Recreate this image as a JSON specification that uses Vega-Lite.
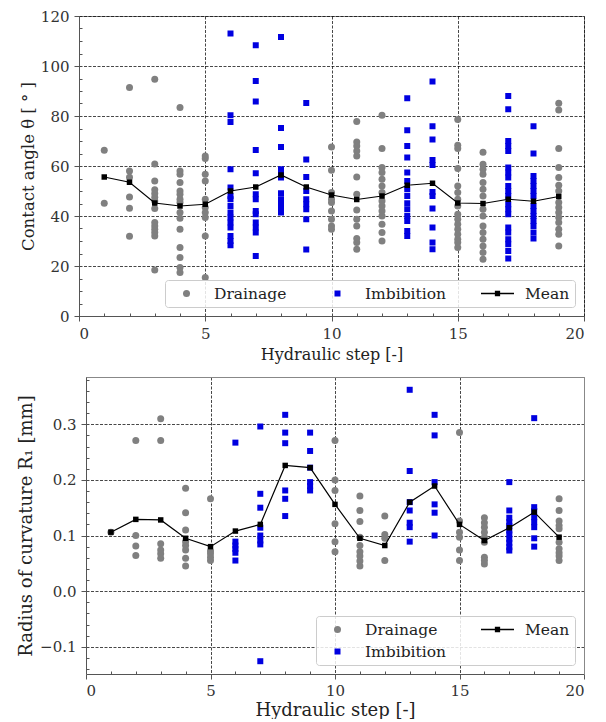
{
  "$schema": "https://vega.github.io/schema/vega-lite/v6.json",
  "padding": {"left": 17, "top": 8, "right": 5, "bottom": 0},
  "background": "white",
  "spacing": 14,
  "datasets": {
    "angle": [
      {"s":1,"v":66.3,"g":"Drainage"},{"s":1,"v":45.1,"g":"Drainage"},
      {"s":2,"v":91.4,"g":"Drainage"},{"s":2,"v":58.0,"g":"Drainage"},{"s":2,"v":55.5,"g":"Drainage"},{"s":2,"v":47.6,"g":"Drainage"},{"s":2,"v":43.1,"g":"Drainage"},{"s":2,"v":31.9,"g":"Drainage"},
      {"s":3,"v":94.7,"g":"Drainage"},{"s":3,"v":60.8,"g":"Drainage"},{"s":3,"v":54.0,"g":"Drainage"},{"s":3,"v":50.5,"g":"Drainage"},{"s":3,"v":49.0,"g":"Drainage"},{"s":3,"v":47.5,"g":"Drainage"},{"s":3,"v":46.0,"g":"Drainage"},{"s":3,"v":43.0,"g":"Drainage"},{"s":3,"v":37.4,"g":"Drainage"},{"s":3,"v":36.0,"g":"Drainage"},{"s":3,"v":34.7,"g":"Drainage"},{"s":3,"v":33.4,"g":"Drainage"},{"s":3,"v":32.0,"g":"Drainage"},{"s":3,"v":18.4,"g":"Drainage"},
      {"s":4,"v":83.4,"g":"Drainage"},{"s":4,"v":58.0,"g":"Drainage"},{"s":4,"v":56.7,"g":"Drainage"},{"s":4,"v":53.4,"g":"Drainage"},{"s":4,"v":50.0,"g":"Drainage"},{"s":4,"v":48.7,"g":"Drainage"},{"s":4,"v":46.7,"g":"Drainage"},{"s":4,"v":45.4,"g":"Drainage"},{"s":4,"v":41.4,"g":"Drainage"},{"s":4,"v":39.1,"g":"Drainage"},{"s":4,"v":34.7,"g":"Drainage"},{"s":4,"v":27.4,"g":"Drainage"},{"s":4,"v":23.4,"g":"Drainage"},{"s":4,"v":19.4,"g":"Drainage"},{"s":4,"v":17.4,"g":"Drainage"},
      {"s":5,"v":64.0,"g":"Drainage"},{"s":5,"v":63.0,"g":"Drainage"},{"s":5,"v":56.7,"g":"Drainage"},{"s":5,"v":54.0,"g":"Drainage"},{"s":5,"v":46.7,"g":"Drainage"},{"s":5,"v":43.4,"g":"Drainage"},{"s":5,"v":41.4,"g":"Drainage"},{"s":5,"v":39.4,"g":"Drainage"},{"s":5,"v":32.0,"g":"Drainage"},{"s":5,"v":15.4,"g":"Drainage"},
      {"s":6,"v":113.0,"g":"Imbibition"},{"s":6,"v":80.3,"g":"Imbibition"},{"s":6,"v":77.6,"g":"Imbibition"},{"s":6,"v":58.7,"g":"Imbibition"},{"s":6,"v":51.4,"g":"Imbibition"},{"s":6,"v":48.0,"g":"Imbibition"},{"s":6,"v":46.7,"g":"Imbibition"},{"s":6,"v":44.0,"g":"Imbibition"},{"s":6,"v":41.4,"g":"Imbibition"},{"s":6,"v":39.4,"g":"Imbibition"},{"s":6,"v":37.4,"g":"Imbibition"},{"s":6,"v":35.4,"g":"Imbibition"},{"s":6,"v":32.0,"g":"Imbibition"},{"s":6,"v":30.0,"g":"Imbibition"},{"s":6,"v":28.3,"g":"Imbibition"},
      {"s":7,"v":108.3,"g":"Imbibition"},{"s":7,"v":94.0,"g":"Imbibition"},{"s":7,"v":85.8,"g":"Imbibition"},{"s":7,"v":66.4,"g":"Imbibition"},{"s":7,"v":57.1,"g":"Imbibition"},{"s":7,"v":48.7,"g":"Imbibition"},{"s":7,"v":46.7,"g":"Imbibition"},{"s":7,"v":42.0,"g":"Imbibition"},{"s":7,"v":40.7,"g":"Imbibition"},{"s":7,"v":37.4,"g":"Imbibition"},{"s":7,"v":35.4,"g":"Imbibition"},{"s":7,"v":33.4,"g":"Imbibition"},{"s":7,"v":24.0,"g":"Imbibition"},
      {"s":8,"v":111.6,"g":"Imbibition"},{"s":8,"v":75.2,"g":"Imbibition"},{"s":8,"v":67.6,"g":"Imbibition"},{"s":8,"v":58.7,"g":"Imbibition"},{"s":8,"v":57.4,"g":"Imbibition"},{"s":8,"v":55.4,"g":"Imbibition"},{"s":8,"v":49.1,"g":"Imbibition"},{"s":8,"v":46.7,"g":"Imbibition"},{"s":8,"v":45.1,"g":"Imbibition"},{"s":8,"v":43.4,"g":"Imbibition"},{"s":8,"v":41.4,"g":"Imbibition"},
      {"s":9,"v":85.2,"g":"Imbibition"},{"s":9,"v":62.6,"g":"Imbibition"},{"s":9,"v":55.6,"g":"Imbibition"},{"s":9,"v":50.0,"g":"Imbibition"},{"s":9,"v":46.7,"g":"Imbibition"},{"s":9,"v":44.7,"g":"Imbibition"},{"s":9,"v":42.7,"g":"Imbibition"},{"s":9,"v":38.7,"g":"Imbibition"},{"s":9,"v":26.6,"g":"Imbibition"},
      {"s":10,"v":67.6,"g":"Drainage"},{"s":10,"v":58.3,"g":"Drainage"},{"s":10,"v":49.4,"g":"Drainage"},{"s":10,"v":46.7,"g":"Drainage"},{"s":10,"v":45.4,"g":"Drainage"},{"s":10,"v":42.0,"g":"Drainage"},{"s":10,"v":38.7,"g":"Drainage"},{"s":10,"v":36.0,"g":"Drainage"},{"s":10,"v":34.7,"g":"Drainage"},
      {"s":11,"v":77.8,"g":"Drainage"},{"s":11,"v":69.6,"g":"Drainage"},{"s":11,"v":68.0,"g":"Drainage"},{"s":11,"v":66.0,"g":"Drainage"},{"s":11,"v":64.0,"g":"Drainage"},{"s":11,"v":55.6,"g":"Drainage"},{"s":11,"v":48.7,"g":"Drainage"},{"s":11,"v":42.4,"g":"Drainage"},{"s":11,"v":38.7,"g":"Drainage"},{"s":11,"v":36.0,"g":"Drainage"},{"s":11,"v":31.0,"g":"Drainage"},{"s":11,"v":29.4,"g":"Drainage"},{"s":11,"v":26.7,"g":"Drainage"},
      {"s":12,"v":80.3,"g":"Drainage"},{"s":12,"v":67.0,"g":"Drainage"},{"s":12,"v":59.4,"g":"Drainage"},{"s":12,"v":57.4,"g":"Drainage"},{"s":12,"v":54.7,"g":"Drainage"},{"s":12,"v":52.0,"g":"Drainage"},{"s":12,"v":49.4,"g":"Drainage"},{"s":12,"v":46.0,"g":"Drainage"},{"s":12,"v":44.0,"g":"Drainage"},{"s":12,"v":42.0,"g":"Drainage"},{"s":12,"v":40.0,"g":"Drainage"},{"s":12,"v":36.7,"g":"Drainage"},{"s":12,"v":33.4,"g":"Drainage"},{"s":12,"v":30.0,"g":"Drainage"},
      {"s":13,"v":87.1,"g":"Imbibition"},{"s":13,"v":74.3,"g":"Imbibition"},{"s":13,"v":68.0,"g":"Imbibition"},{"s":13,"v":63.4,"g":"Imbibition"},{"s":13,"v":57.4,"g":"Imbibition"},{"s":13,"v":54.0,"g":"Imbibition"},{"s":13,"v":50.7,"g":"Imbibition"},{"s":13,"v":48.0,"g":"Imbibition"},{"s":13,"v":45.1,"g":"Imbibition"},{"s":13,"v":42.7,"g":"Imbibition"},{"s":13,"v":40.0,"g":"Imbibition"},{"s":13,"v":38.0,"g":"Imbibition"},{"s":13,"v":34.0,"g":"Imbibition"},{"s":13,"v":32.0,"g":"Imbibition"},
      {"s":14,"v":93.8,"g":"Imbibition"},{"s":14,"v":75.9,"g":"Imbibition"},{"s":14,"v":70.6,"g":"Imbibition"},{"s":14,"v":62.4,"g":"Imbibition"},{"s":14,"v":60.4,"g":"Imbibition"},{"s":14,"v":49.6,"g":"Imbibition"},{"s":14,"v":48.0,"g":"Imbibition"},{"s":14,"v":43.0,"g":"Imbibition"},{"s":14,"v":35.4,"g":"Imbibition"},{"s":14,"v":29.4,"g":"Imbibition"},{"s":14,"v":26.7,"g":"Imbibition"},
      {"s":15,"v":78.6,"g":"Drainage"},{"s":15,"v":68.3,"g":"Drainage"},{"s":15,"v":67.0,"g":"Drainage"},{"s":15,"v":59.0,"g":"Drainage"},{"s":15,"v":52.0,"g":"Drainage"},{"s":15,"v":49.4,"g":"Drainage"},{"s":15,"v":46.7,"g":"Drainage"},{"s":15,"v":44.0,"g":"Drainage"},{"s":15,"v":40.7,"g":"Drainage"},{"s":15,"v":38.7,"g":"Drainage"},{"s":15,"v":36.7,"g":"Drainage"},{"s":15,"v":34.7,"g":"Drainage"},{"s":15,"v":32.7,"g":"Drainage"},{"s":15,"v":30.7,"g":"Drainage"},{"s":15,"v":29.4,"g":"Drainage"},{"s":15,"v":27.4,"g":"Drainage"},
      {"s":16,"v":65.5,"g":"Drainage"},{"s":16,"v":60.7,"g":"Drainage"},{"s":16,"v":58.7,"g":"Drainage"},{"s":16,"v":56.7,"g":"Drainage"},{"s":16,"v":53.4,"g":"Drainage"},{"s":16,"v":50.7,"g":"Drainage"},{"s":16,"v":48.0,"g":"Drainage"},{"s":16,"v":42.7,"g":"Drainage"},{"s":16,"v":40.0,"g":"Drainage"},{"s":16,"v":36.0,"g":"Drainage"},{"s":16,"v":33.4,"g":"Drainage"},{"s":16,"v":30.7,"g":"Drainage"},{"s":16,"v":28.0,"g":"Drainage"},{"s":16,"v":25.4,"g":"Drainage"},{"s":16,"v":22.7,"g":"Drainage"},
      {"s":17,"v":88.0,"g":"Imbibition"},{"s":17,"v":82.7,"g":"Imbibition"},{"s":17,"v":70.0,"g":"Imbibition"},{"s":17,"v":68.0,"g":"Imbibition"},{"s":17,"v":66.0,"g":"Imbibition"},{"s":17,"v":59.4,"g":"Imbibition"},{"s":17,"v":57.4,"g":"Imbibition"},{"s":17,"v":55.4,"g":"Imbibition"},{"s":17,"v":52.0,"g":"Imbibition"},{"s":17,"v":50.0,"g":"Imbibition"},{"s":17,"v":48.0,"g":"Imbibition"},{"s":17,"v":44.7,"g":"Imbibition"},{"s":17,"v":42.7,"g":"Imbibition"},{"s":17,"v":40.7,"g":"Imbibition"},{"s":17,"v":35.4,"g":"Imbibition"},{"s":17,"v":33.4,"g":"Imbibition"},{"s":17,"v":30.7,"g":"Imbibition"},{"s":17,"v":28.7,"g":"Imbibition"},{"s":17,"v":26.0,"g":"Imbibition"},{"s":17,"v":23.0,"g":"Imbibition"},
      {"s":18,"v":75.9,"g":"Imbibition"},{"s":18,"v":65.0,"g":"Imbibition"},{"s":18,"v":56.0,"g":"Imbibition"},{"s":18,"v":54.0,"g":"Imbibition"},{"s":18,"v":52.0,"g":"Imbibition"},{"s":18,"v":50.0,"g":"Imbibition"},{"s":18,"v":48.0,"g":"Imbibition"},{"s":18,"v":44.0,"g":"Imbibition"},{"s":18,"v":42.0,"g":"Imbibition"},{"s":18,"v":40.0,"g":"Imbibition"},{"s":18,"v":38.0,"g":"Imbibition"},{"s":18,"v":36.0,"g":"Imbibition"},{"s":18,"v":33.4,"g":"Imbibition"},{"s":18,"v":31.0,"g":"Imbibition"},
      {"s":19,"v":85.1,"g":"Drainage"},{"s":19,"v":82.4,"g":"Drainage"},{"s":19,"v":67.0,"g":"Drainage"},{"s":19,"v":59.4,"g":"Drainage"},{"s":19,"v":55.4,"g":"Drainage"},{"s":19,"v":52.3,"g":"Drainage"},{"s":19,"v":50.0,"g":"Drainage"},{"s":19,"v":45.4,"g":"Drainage"},{"s":19,"v":43.4,"g":"Drainage"},{"s":19,"v":41.4,"g":"Drainage"},{"s":19,"v":39.4,"g":"Drainage"},{"s":19,"v":37.4,"g":"Drainage"},{"s":19,"v":34.7,"g":"Drainage"},{"s":19,"v":32.7,"g":"Drainage"},{"s":19,"v":28.0,"g":"Drainage"}
    ],
    "angleMean": [
      {"s":1,"v":55.6},{"s":2,"v":53.5},{"s":3,"v":45.2},{"s":4,"v":44.0},{"s":5,"v":44.7},{"s":6,"v":50.0},{"s":7,"v":51.6},{"s":8,"v":56.4},{"s":9,"v":51.6},{"s":10,"v":48.4},
      {"s":11,"v":46.6},{"s":12,"v":48.0},{"s":13,"v":52.3},{"s":14,"v":53.1},{"s":15,"v":45.2},{"s":16,"v":45.0},{"s":17,"v":46.7},{"s":18,"v":45.9},{"s":19,"v":47.8}
    ],
    "radius": [
      {"s":1,"v":0.106,"g":"Drainage"},
      {"s":2,"v":0.271,"g":"Drainage"},{"s":2,"v":0.100,"g":"Drainage"},{"s":2,"v":0.081,"g":"Drainage"},{"s":2,"v":0.064,"g":"Drainage"},
      {"s":3,"v":0.310,"g":"Drainage"},{"s":3,"v":0.271,"g":"Drainage"},{"s":3,"v":0.085,"g":"Drainage"},{"s":3,"v":0.074,"g":"Drainage"},{"s":3,"v":0.067,"g":"Drainage"},{"s":3,"v":0.059,"g":"Drainage"},
      {"s":4,"v":0.185,"g":"Drainage"},{"s":4,"v":0.141,"g":"Drainage"},{"s":4,"v":0.110,"g":"Drainage"},{"s":4,"v":0.089,"g":"Drainage"},{"s":4,"v":0.082,"g":"Drainage"},{"s":4,"v":0.074,"g":"Drainage"},{"s":4,"v":0.059,"g":"Drainage"},{"s":4,"v":0.045,"g":"Drainage"},
      {"s":5,"v":0.166,"g":"Drainage"},{"s":5,"v":0.072,"g":"Drainage"},{"s":5,"v":0.067,"g":"Drainage"},{"s":5,"v":0.061,"g":"Drainage"},{"s":5,"v":0.055,"g":"Drainage"},
      {"s":6,"v":0.267,"g":"Imbibition"},{"s":6,"v":0.089,"g":"Imbibition"},{"s":6,"v":0.082,"g":"Imbibition"},{"s":6,"v":0.076,"g":"Imbibition"},{"s":6,"v":0.069,"g":"Imbibition"},{"s":6,"v":0.055,"g":"Imbibition"},
      {"s":7,"v":0.296,"g":"Imbibition"},{"s":7,"v":0.175,"g":"Imbibition"},{"s":7,"v":0.150,"g":"Imbibition"},{"s":7,"v":0.114,"g":"Imbibition"},{"s":7,"v":0.100,"g":"Imbibition"},{"s":7,"v":0.091,"g":"Imbibition"},{"s":7,"v":0.084,"g":"Imbibition"},{"s":7,"v":-0.126,"g":"Imbibition"},
      {"s":8,"v":0.317,"g":"Imbibition"},{"s":8,"v":0.285,"g":"Imbibition"},{"s":8,"v":0.266,"g":"Imbibition"},{"s":8,"v":0.181,"g":"Imbibition"},{"s":8,"v":0.166,"g":"Imbibition"},{"s":8,"v":0.135,"g":"Imbibition"},
      {"s":9,"v":0.285,"g":"Imbibition"},{"s":9,"v":0.252,"g":"Imbibition"},{"s":9,"v":0.222,"g":"Imbibition"},{"s":9,"v":0.196,"g":"Imbibition"},{"s":9,"v":0.189,"g":"Imbibition"},{"s":9,"v":0.181,"g":"Imbibition"},
      {"s":10,"v":0.271,"g":"Drainage"},{"s":10,"v":0.200,"g":"Drainage"},{"s":10,"v":0.181,"g":"Drainage"},{"s":10,"v":0.121,"g":"Drainage"},{"s":10,"v":0.089,"g":"Drainage"},{"s":10,"v":0.071,"g":"Drainage"},
      {"s":11,"v":0.171,"g":"Drainage"},{"s":11,"v":0.145,"g":"Drainage"},{"s":11,"v":0.125,"g":"Drainage"},{"s":11,"v":0.097,"g":"Drainage"},{"s":11,"v":0.082,"g":"Drainage"},{"s":11,"v":0.071,"g":"Drainage"},{"s":11,"v":0.063,"g":"Drainage"},{"s":11,"v":0.054,"g":"Drainage"},{"s":11,"v":0.045,"g":"Drainage"},
      {"s":12,"v":0.135,"g":"Drainage"},{"s":12,"v":0.102,"g":"Drainage"},{"s":12,"v":0.095,"g":"Drainage"},{"s":12,"v":0.055,"g":"Drainage"},
      {"s":13,"v":0.362,"g":"Imbibition"},{"s":13,"v":0.216,"g":"Imbibition"},{"s":13,"v":0.160,"g":"Imbibition"},{"s":13,"v":0.145,"g":"Imbibition"},{"s":13,"v":0.123,"g":"Imbibition"},{"s":13,"v":0.115,"g":"Imbibition"},{"s":13,"v":0.089,"g":"Imbibition"},
      {"s":14,"v":0.317,"g":"Imbibition"},{"s":14,"v":0.280,"g":"Imbibition"},{"s":14,"v":0.196,"g":"Imbibition"},{"s":14,"v":0.156,"g":"Imbibition"},{"s":14,"v":0.141,"g":"Imbibition"},{"s":14,"v":0.100,"g":"Imbibition"},
      {"s":15,"v":0.285,"g":"Drainage"},{"s":15,"v":0.126,"g":"Drainage"},{"s":15,"v":0.106,"g":"Drainage"},{"s":15,"v":0.097,"g":"Drainage"},{"s":15,"v":0.074,"g":"Drainage"},{"s":15,"v":0.055,"g":"Drainage"},
      {"s":16,"v":0.132,"g":"Drainage"},{"s":16,"v":0.123,"g":"Drainage"},{"s":16,"v":0.115,"g":"Drainage"},{"s":16,"v":0.106,"g":"Drainage"},{"s":16,"v":0.097,"g":"Drainage"},{"s":16,"v":0.088,"g":"Drainage"},{"s":16,"v":0.061,"g":"Drainage"},{"s":16,"v":0.055,"g":"Drainage"},{"s":16,"v":0.049,"g":"Drainage"},
      {"s":17,"v":0.196,"g":"Imbibition"},{"s":17,"v":0.145,"g":"Imbibition"},{"s":17,"v":0.132,"g":"Imbibition"},{"s":17,"v":0.124,"g":"Imbibition"},{"s":17,"v":0.117,"g":"Imbibition"},{"s":17,"v":0.109,"g":"Imbibition"},{"s":17,"v":0.102,"g":"Imbibition"},{"s":17,"v":0.094,"g":"Imbibition"},{"s":17,"v":0.087,"g":"Imbibition"},{"s":17,"v":0.079,"g":"Imbibition"},{"s":17,"v":0.073,"g":"Imbibition"},
      {"s":18,"v":0.311,"g":"Imbibition"},{"s":18,"v":0.151,"g":"Imbibition"},{"s":18,"v":0.144,"g":"Imbibition"},{"s":18,"v":0.133,"g":"Imbibition"},{"s":18,"v":0.124,"g":"Imbibition"},{"s":18,"v":0.115,"g":"Imbibition"},{"s":18,"v":0.095,"g":"Imbibition"},{"s":18,"v":0.080,"g":"Imbibition"},
      {"s":19,"v":0.166,"g":"Drainage"},{"s":19,"v":0.145,"g":"Drainage"},{"s":19,"v":0.126,"g":"Drainage"},{"s":19,"v":0.118,"g":"Drainage"},{"s":19,"v":0.112,"g":"Drainage"},{"s":19,"v":0.088,"g":"Drainage"},{"s":19,"v":0.076,"g":"Drainage"},{"s":19,"v":0.069,"g":"Drainage"},{"s":19,"v":0.063,"g":"Drainage"},{"s":19,"v":0.055,"g":"Drainage"}
    ],
    "radiusMean": [
      {"s":1,"v":0.106},{"s":2,"v":0.129},{"s":3,"v":0.128},{"s":4,"v":0.095},{"s":5,"v":0.080},{"s":6,"v":0.108},{"s":7,"v":0.120},{"s":8,"v":0.226},{"s":9,"v":0.222},{"s":10,"v":0.156},
      {"s":11,"v":0.095},{"s":12,"v":0.082},{"s":13,"v":0.160},{"s":14,"v":0.189},{"s":15,"v":0.120},{"s":16,"v":0.091},{"s":17,"v":0.114},{"s":18,"v":0.142},{"s":19,"v":0.097}
    ]
  },
  "vconcat": [
    {
      "width": 505,
      "height": 300,
      "resolve": {"axis": {"x": "independent", "y": "independent"}},
      "layer": [
        {
          "data": {"name": "angle"},
          "mark": {"type": "point", "filled": true, "opacity": 1},
          "encoding": {
            "x": {"field": "s", "type": "quantitative", "scale": {"domain": [0, 20], "nice": false, "zero": false},
                  "axis": {"values": [0, 5, 10, 15, 20], "title": "Hydraulic step [-]", "grid": true, "titleFontSize": 16}},
            "y": {"field": "v", "type": "quantitative", "scale": {"domain": [0, 120], "nice": false},
                  "axis": {"values": [0, 20, 40, 60, 80, 100, 120], "title": "Contact angle θ [ ° ]", "grid": true, "titleFontSize": 16.5, "titleX": -43}},
            "color": {"field": "g", "type": "nominal", "scale": {"domain": ["Drainage", "Imbibition", "Mean"], "range": ["#808080", "#0000e0", "#000000"]},
                      "legend": {"title": null, "columns": 3, "direction": "horizontal"}},
            "shape": {"field": "g", "type": "nominal", "scale": {"domain": ["Drainage", "Imbibition", "Mean"], "range": ["circle", "square", "M-1,-0.045H1V0.045H-1Z M-0.16,-0.16H0.16V0.16H-0.16Z"]},
                      "legend": {"title": null, "columns": 3, "direction": "horizontal"}},
            "size": {"field": "g", "type": "nominal", "scale": {"type": "ordinal", "domain": ["Drainage", "Imbibition", "Mean"], "range": [49, 36, 1089]},
                     "legend": {"title": null, "columns": 3, "direction": "horizontal"}}
          }
        },
        {
          "data": {"name": "angleMean"},
          "mark": {"type": "line", "color": "#000000", "strokeWidth": 1.2},
          "encoding": {
            "x": {"field": "s", "type": "quantitative", "axis": {"orient": "bottom", "values": [1,2,3,4,6,7,8,9,11,12,13,14,16,17,18,19], "labels": false, "grid": false, "domain": false, "title": null, "tickSize": -3}},
            "y": {"field": "v", "type": "quantitative", "axis": {"orient": "left", "values": [5,10,15,25,30,35,45,50,55,65,70,75,85,90,95,105,110,115], "labels": false, "grid": false, "domain": false, "title": null, "tickSize": -3}}
          }
        },
        {
          "data": {"name": "angleMean"},
          "mark": {"type": "square", "color": "#000000", "opacity": 1, "size": 30},
          "encoding": {
            "x": {"field": "s", "type": "quantitative", "axis": null},
            "y": {"field": "v", "type": "quantitative", "axis": null}
          }
        }
      ]
    },
    {
      "width": 505,
      "height": 297,
      "view": {"stroke": null},
      "resolve": {"axis": {"x": "independent", "y": "independent"}},
      "layer": [
        {
          "data": {"name": "radius"},
          "mark": {"type": "point", "filled": true, "opacity": 1},
          "encoding": {
            "x": {"field": "s", "type": "quantitative", "scale": {"domain": [0, 20], "nice": false, "zero": false, "range": [7, 505]},
                  "axis": {"values": [0, 5, 10, 15, 20], "title": "Hydraulic step [-]", "grid": true, "titleFontSize": 18, "titlePadding": 3, "labelPadding": 4}},
            "y": {"field": "v", "type": "quantitative", "scale": {"domain": [-0.149, 0.385], "nice": false, "zero": false},
                  "axis": {"values": [-0.1, 0, 0.1, 0.2, 0.3], "format": ".1f", "title": "Radius of curvature R₁ [mm]", "grid": true, "offset": -7, "titleFontSize": 18, "titleX": -51}},
            "color": {"field": "g", "type": "nominal", "scale": {"domain": ["Drainage", "Imbibition", "Mean"], "range": ["#808080", "#0000e0", "#000000"]},
                      "legend": {"title": null, "columns": 2}},
            "shape": {"field": "g", "type": "nominal", "scale": {"domain": ["Drainage", "Imbibition", "Mean"], "range": ["circle", "square", "M-1,-0.045H1V0.045H-1Z M-0.16,-0.16H0.16V0.16H-0.16Z"]},
                      "legend": {"title": null, "columns": 2}},
            "size": {"field": "g", "type": "nominal", "scale": {"type": "ordinal", "domain": ["Drainage", "Imbibition", "Mean"], "range": [49, 36, 1089]},
                     "legend": {"title": null, "columns": 2}}
          }
        },
        {
          "data": {"name": "radiusMean"},
          "mark": {"type": "line", "color": "#000000", "strokeWidth": 1.2},
          "encoding": {
            "x": {"field": "s", "type": "quantitative", "axis": {"orient": "bottom", "values": [1,2,3,4,6,7,8,9,11,12,13,14,16,17,18,19], "labels": false, "grid": false, "domain": false, "title": null, "tickSize": -3}},
            "y": {"field": "v", "type": "quantitative", "axis": {"orient": "left", "offset": -7, "values": [-0.14,-0.12,-0.08,-0.06,-0.04,-0.02,0.02,0.04,0.06,0.08,0.12,0.14,0.16,0.18,0.22,0.24,0.26,0.28,0.32,0.34,0.36,0.38], "labels": false, "grid": false, "domain": false, "title": null, "tickSize": -3}}
          }
        },
        {
          "data": {"name": "radiusMean"},
          "mark": {"type": "square", "color": "#000000", "opacity": 1, "size": 30},
          "encoding": {
            "x": {"field": "s", "type": "quantitative", "axis": {"orient": "top", "labels": false, "ticks": false, "grid": false, "title": null, "domainColor": "#888888"}},
            "y": {"field": "v", "type": "quantitative", "axis": {"orient": "right", "labels": false, "ticks": false, "grid": false, "title": null, "domainColor": "#888888"}}
          }
        }
      ]
    }
  ],
  "resolve": {"scale": {"color": "independent", "shape": "independent", "size": "independent", "x": "independent", "y": "independent"}, "legend": {"color": "independent", "shape": "independent", "size": "independent"}},
  "config": {
    "font": "DejaVu Serif",
    "view": {"stroke": "#888888", "strokeWidth": 1},
    "axis": {
      "labelFont": "DejaVu Serif", "labelFontSize": 15, "labelColor": "#333333",
      "titleFont": "DejaVu Serif", "titleFontSize": 16, "titleFontWeight": "normal", "titleColor": "#222222",
      "domainColor": "#555555", "tickColor": "#555555", "tickSize": 5, "labelPadding": 5, "titlePadding": 5,
      "gridColor": "#000000", "gridDash": [3, 1.5], "gridWidth": 0.8, "gridOpacity": 0.9
    },
    "legend": {
      "orient": "bottom-right", "offset": 9,
      "fillColor": "rgba(255,255,255,0.85)", "strokeColor": "#cccccc", "cornerRadius": 3, "padding": 5,
      "labelFont": "DejaVu Serif", "labelFontSize": 15.5, "labelColor": "#222222", "labelOffset": 11,
      "columnPadding": 34, "rowPadding": 5, "clipHeight": 17, "symbolStrokeWidth": 0
    }
  }
}
